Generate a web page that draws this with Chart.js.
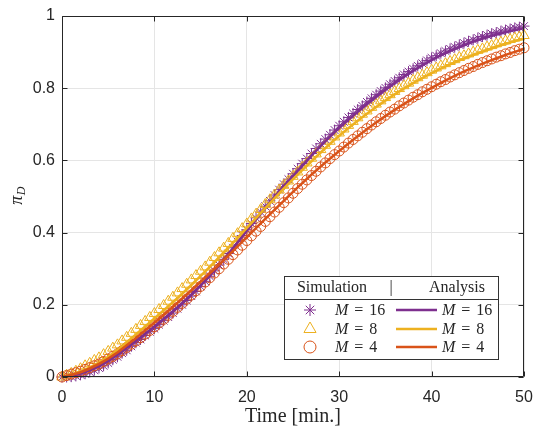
<!DOCTYPE html>
<html>
<head>
<meta charset="utf-8">
<script src="https://cdn.jsdelivr.net/npm/chart.js@4.4.1/dist/chart.umd.min.js"></script>
<style>
  html, body { margin:0; padding:0; background:#fff; }
</style>
</head>
<body>
<canvas id="grafico" width="539" height="426"></canvas>
<script>
// ===== DADOS =====
const ticksX = [0, 10, 20, 30, 40, 50];
const ticksY = [0, 0.2, 0.4, 0.6, 0.8, 1];

// analytic curves (every 2 min)
const tempoAnalise = [0,2,4,6,8,10,12,14,16,18,20,22,24,26,28,30,32,34,36,38,40,42,44,46,48,50];
const analiseM16 = [0.000,0.010,0.030,0.062,0.100,0.140,0.182,0.228,0.280,0.340,0.405,0.468,0.528,
                    0.585,0.640,0.690,0.735,0.776,0.814,0.848,0.878,0.903,0.924,0.941,0.955,0.966];
const analiseM8  = [0.000,0.015,0.040,0.075,0.118,0.162,0.207,0.255,0.305,0.358,0.413,0.468,0.522,
                    0.573,0.622,0.668,0.710,0.748,0.783,0.814,0.842,0.866,0.887,0.906,0.923,0.938];
const analiseM4  = [0.000,0.013,0.036,0.068,0.108,0.150,0.194,0.240,0.287,0.336,0.387,0.438,0.488,
                    0.537,0.583,0.626,0.667,0.705,0.740,0.772,0.801,0.828,0.852,0.873,0.892,0.909];

// simulation samples (every 0.5 min, 0..50)
const tempoSim = [];
for (let i = 0; i <= 100; i++) tempoSim.push(i / 2);

const simM16 = [0.000,0.000,0.001,0.003,0.006,0.009,0.014,0.019,0.025,0.031,0.039,0.048,0.056,0.066,0.074,0.085,
  0.095,0.104,0.115,0.125,0.134,0.145,0.156,0.166,0.177,0.189,0.200,0.212,0.224,0.237,0.251,0.265,0.279,0.294,
  0.310,0.326,0.342,0.358,0.375,0.392,0.408,0.425,0.441,0.457,0.473,0.488,0.504,0.519,0.534,0.548,0.563,0.577,
  0.591,0.605,0.619,0.633,0.646,0.659,0.671,0.684,0.696,0.707,0.719,0.730,0.741,0.751,0.762,0.772,0.782,0.792,
  0.801,0.811,0.820,0.829,0.838,0.846,0.854,0.862,0.869,0.877,0.884,0.890,0.897,0.903,0.909,0.914,0.920,0.925,
  0.930,0.934,0.939,0.943,0.947,0.951,0.954,0.958,0.961,0.964,0.967,0.969,0.972];

const simM8 = [0.000,0.005,0.010,0.016,0.023,0.031,0.038,0.046,0.053,0.062,0.071,0.080,0.089,0.100,0.110,0.121,
  0.132,0.143,0.154,0.165,0.176,0.187,0.198,0.210,0.221,0.233,0.245,0.257,0.269,0.281,0.293,0.305,0.318,0.331,
  0.344,0.357,0.370,0.384,0.397,0.411,0.424,0.438,0.451,0.464,0.478,0.491,0.504,0.518,0.531,0.543,0.556,0.568,
  0.581,0.593,0.606,0.618,0.630,0.642,0.653,0.665,0.676,0.687,0.697,0.708,0.718,0.728,0.737,0.747,0.756,0.765,
  0.774,0.782,0.791,0.799,0.807,0.814,0.822,0.829,0.836,0.843,0.850,0.856,0.862,0.868,0.874,0.879,0.885,0.890,
  0.895,0.900,0.905,0.909,0.914,0.918,0.923,0.927,0.931,0.935,0.939,0.942,0.946];

const simM4 = [0.000,0.004,0.008,0.012,0.016,0.021,0.026,0.031,0.036,0.043,0.050,0.057,0.064,0.073,0.082,0.091,
  0.100,0.109,0.119,0.129,0.139,0.150,0.160,0.171,0.182,0.193,0.204,0.216,0.227,0.239,0.251,0.263,0.275,0.288,
  0.300,0.313,0.326,0.339,0.352,0.365,0.378,0.391,0.404,0.417,0.431,0.444,0.457,0.470,0.483,0.496,0.509,0.522,
  0.534,0.546,0.558,0.570,0.582,0.593,0.605,0.616,0.626,0.637,0.648,0.658,0.668,0.678,0.688,0.698,0.707,0.716,
  0.725,0.734,0.742,0.751,0.759,0.767,0.775,0.782,0.790,0.797,0.804,0.811,0.818,0.824,0.831,0.837,0.843,0.849,
  0.855,0.860,0.866,0.871,0.876,0.881,0.886,0.890,0.895,0.899,0.904,0.908,0.912];

const roxo = "#7E2F8E";
const amarelo = "#EDB120";
const laranja = "#D95319";
const eixoCor = "#262626";

const pares = (xs, ys) => xs.map((x, i) => ({ x: x, y: ys[i] }));

const linha = (dados, cor, ordem) => ({
  data: pares(tempoAnalise, dados),
  borderColor: cor,
  borderWidth: 2.6,
  pointRadius: 0,
  cubicInterpolationMode: "monotone",
  fill: false,
  order: ordem
});

const pontos = (dados, cor, estilo, raio, ordem) => ({
  data: pares(tempoSim, dados),
  showLine: false,
  borderColor: cor,
  pointStyle: estilo,
  pointRadius: raio,
  pointBorderWidth: 1,
  pointBorderColor: cor,
  pointBackgroundColor: "rgba(0,0,0,0)",
  clip: false,
  order: ordem
});

// ===== MOLDURA / LEGENDA =====
const moldura = {
  id: "moldura",
  afterDraw(chart){
    const ctx = chart.ctx;
    const a = chart.chartArea;
    const sx = chart.scales.x, sy = chart.scales.y;
    const L = Math.round(a.left) + 0.5, R = Math.round(a.right) - 0.5;
    const T = Math.round(a.top) + 0.5, B = Math.round(a.bottom) - 0.5;

    ctx.save();
    ctx.strokeStyle = eixoCor;
    ctx.lineWidth = 1;
    ctx.beginPath();
    ctx.rect(L, T, R - L, B - T);
    ticksX.forEach(v => {
      const px = Math.round(sx.getPixelForValue(v)) + 0.5;
      ctx.moveTo(px, B); ctx.lineTo(px, B - 5);
      ctx.moveTo(px, T); ctx.lineTo(px, T + 5);
    });
    ticksY.forEach(v => {
      const py = Math.round(sy.getPixelForValue(v)) + 0.5;
      ctx.moveTo(L, py); ctx.lineTo(L + 5, py);
      ctx.moveTo(R, py); ctx.lineTo(R - 5, py);
    });
    ctx.stroke();

    // y title: pi_D
    ctx.fillStyle = eixoCor;
    ctx.translate(17, 196);
    ctx.rotate(-Math.PI / 2);
    ctx.font = 'italic 18px "Liberation Serif"';
    const wPi = ctx.measureText("π").width;
    ctx.font = 'italic 12px "Liberation Serif"';
    const wD = ctx.measureText("D").width;
    const x0 = -(wPi + wD) / 2;
    ctx.font = 'italic 18px "Liberation Serif"';
    ctx.fillText("π", x0, 5);
    ctx.font = 'italic 12px "Liberation Serif"';
    ctx.fillText("D", x0 + wPi + 0.5, 8);
    ctx.restore();

    // legend box
    ctx.save();
    ctx.fillStyle = "#fff";
    ctx.fillRect(284, 276, 214, 83);
    ctx.strokeStyle = "#333";
    ctx.lineWidth = 1;
    ctx.strokeRect(284.5, 276.5, 214, 83);
    ctx.beginPath();
    ctx.moveTo(284, 299.5); ctx.lineTo(498, 299.5);
    ctx.stroke();

    ctx.fillStyle = eixoCor;
    ctx.textBaseline = "middle";
    ctx.textAlign = "center";
    ctx.font = '16px "Liberation Serif"';
    ctx.fillText("Simulation", 332, 288);
    ctx.fillText("|", 391, 288);
    ctx.fillText("Analysis", 457, 288);

    const linhas = [
      { cor: roxo, estilo: "star", raio: 6, txt: "16", y: 310 },
      { cor: amarelo, estilo: "triangle", raio: 7, txt: "8", y: 329 },
      { cor: laranja, estilo: "circle", raio: 6, txt: "4", y: 347 }
    ];

    const rotulo = (x, y, txt) => {
      ctx.fillStyle = eixoCor;
      ctx.textAlign = "left";
      ctx.font = 'italic 16px "Liberation Serif"';
      ctx.fillText("M", x, y);
      x += ctx.measureText("M").width + 6;
      ctx.font = '16px "Liberation Serif"';
      ctx.fillText("=", x, y);
      x += ctx.measureText("=").width + 6;
      ctx.fillText(txt, x, y);
    };

    linhas.forEach(l => {
      ctx.strokeStyle = l.cor;
      ctx.fillStyle = "rgba(0,0,0,0)";
      ctx.lineWidth = 1;
      Chart.helpers.drawPoint(ctx, { pointStyle: l.estilo, radius: l.raio, rotation: 0, borderWidth: 1 }, 310, l.y);

      ctx.beginPath();
      ctx.lineWidth = 2.6;
      ctx.moveTo(396, l.y); ctx.lineTo(437, l.y);
      ctx.stroke();

      rotulo(335, l.y + 1, l.txt);
      rotulo(442, l.y + 1, l.txt);
    });
    ctx.restore();
  }
};

// ===== GRAFICO =====
const fonteTick = { family: '"Liberation Sans", Arial, sans-serif', size: 16 };

new Chart(document.getElementById("grafico"), {
  type: "line",
  data: {
    datasets: [
      linha(analiseM4, laranja, 0),
      linha(analiseM8, amarelo, 1),
      linha(analiseM16, roxo, 2),
      pontos(simM4, laranja, "circle", 5, 3),
      pontos(simM8, amarelo, "triangle", 6, 4),
      pontos(simM16, roxo, "star", 5.5, 5)
    ]
  },
  options: {
    responsive: false,
    animation: false,
    layout: { padding: { left: 0, top: 16, right: 15, bottom: 0 } },
    plugins: { legend: { display: false }, tooltip: { enabled: false } },
    scales: {
      x: {
        type: "linear",
        min: 0, max: 50,
        afterBuildTicks: s => { s.ticks = ticksX.map(v => ({ value: v })); },
        afterFit: s => { s.height = 49; s.paddingLeft = 0; s.paddingRight = 0; },
        ticks: { font: fonteTick, color: eixoCor, padding: 11, maxRotation: 0 },
        grid: { color: "#e5e5e5", drawTicks: false },
        border: { display: false },
        title: {
          display: true,
          text: "Time [min.]",
          color: eixoCor,
          font: { family: '"Liberation Serif", serif', size: 20 },
          padding: { top: 0, bottom: -3 }
        }
      },
      y: {
        type: "linear",
        min: 0, max: 1,
        afterBuildTicks: s => { s.ticks = ticksY.map(v => ({ value: v })); },
        afterFit: s => { s.width = 62; s.paddingTop = 0; s.paddingBottom = 0; },
        ticks: {
          font: fonteTick, color: eixoCor, padding: 7,
          callback: v => String(Math.round(v * 10) / 10)
        },
        grid: { color: "#e5e5e5", drawTicks: false },
        border: { display: false }
      }
    }
  },
  plugins: [moldura]
});
</script>
</body>
</html>
